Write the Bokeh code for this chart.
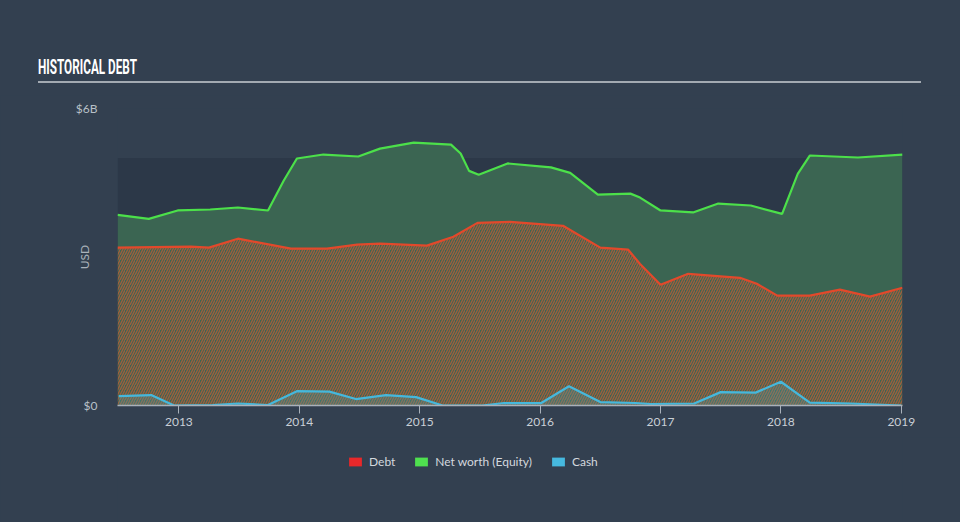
from bokeh.plotting import figure
from bokeh.layouts import column
from bokeh.models import (Range1d, FixedTicker, BoxAnnotation, Legend, LegendItem,
                          ColumnDataSource, Div)
from bokeh.embed import file_html
from bokeh.resources import INLINE

# ---- data (values in billions USD, x in fractional years) ----
equity_x = [2012.49, 2012.75, 2012.99, 2013.26, 2013.49, 2013.74, 2013.87, 2013.98, 2014.20,
            2014.49, 2014.67, 2014.95, 2015.26, 2015.34, 2015.41, 2015.49, 2015.73, 2016.09,
            2016.25, 2016.48, 2016.75, 2016.83, 2017.00, 2017.27, 2017.48, 2017.75, 2018.01,
            2018.14, 2018.24, 2018.64, 2019.01]
equity_v = [3.85, 3.77, 3.94, 3.96, 4.00, 3.94, 4.54, 4.99, 5.07,
            5.03, 5.19, 5.31, 5.27, 5.09, 4.74, 4.66, 4.89, 4.81,
            4.70, 4.26, 4.28, 4.20, 3.94, 3.90, 4.08, 4.04, 3.87,
            4.68, 5.05, 5.01, 5.07]

debt_x = [2012.49, 2013.10, 2013.25, 2013.49, 2013.93, 2014.23, 2014.48, 2014.67, 2015.06,
          2015.28, 2015.48, 2015.75, 2016.19, 2016.50, 2016.73, 2016.83, 2017.00, 2017.23,
          2017.66, 2017.80, 2017.97, 2018.24, 2018.49, 2018.74, 2019.01]
debt_v = [3.19, 3.21, 3.19, 3.37, 3.17, 3.17, 3.25, 3.27, 3.23,
          3.41, 3.69, 3.71, 3.63, 3.19, 3.15, 2.86, 2.44, 2.66,
          2.58, 2.46, 2.22, 2.22, 2.34, 2.20, 2.38]

cash_x = [2012.50, 2012.77, 2012.96, 2013.28, 2013.49, 2013.74, 2013.98, 2014.25, 2014.47,
          2014.72, 2014.97, 2015.19, 2015.52, 2015.70, 2016.01, 2016.24, 2016.50, 2016.79,
          2016.92, 2017.28, 2017.50, 2017.79, 2018.00, 2018.24, 2018.58, 2019.00]
cash_v = [0.19, 0.21, 0.00, 0.01, 0.04, 0.01, 0.29, 0.28, 0.13,
          0.21, 0.17, 0.00, 0.00, 0.05, 0.05, 0.39, 0.07, 0.05,
          0.03, 0.04, 0.27, 0.26, 0.48, 0.06, 0.04, 0.00]

year_ticks = [2013, 2014, 2015, 2016, 2017, 2018, 2019]
y_ticks = [0, 6]
y_tick_labels = {0: "$0", 6: "$6B"}
legend_labels = ["Debt", "Net worth (Equity)", "Cash"]
legend_colors = ["#e8282a", "#4fe04f", "#46b9df"]
title_text = "HISTORICAL DEBT"

BG = "#334050"
DARK = "#2c3848"
GREEN = "#4ce04a"
RED = "#e2492b"
BLUE = "#45b8dc"


def plain(fig):
    fig.background_fill_color = BG
    fig.border_fill_color = BG
    fig.outline_line_color = None
    fig.outline_line_alpha = 0
    fig.outline_line_width = 0
    fig.xgrid.visible = False
    fig.ygrid.visible = False


# ---------- header (title + rule) ----------
TH = 95
head_html = (
    '<div style="position:relative;width:960px;height:%dpx;background:%s;">'
    '<div style="position:absolute;left:38px;top:57px;font-family:Roboto,sans-serif;'
    'font-weight:bold;font-size:21px;line-height:21px;color:#ffffff;white-space:nowrap;'
    'transform:scaleX(0.56);transform-origin:0 0;">%s</div>'
    '<div style="position:absolute;left:38px;top:81px;width:883px;height:2px;'
    'background:#a3aab2;"></div></div>' % (TH, BG, title_text)
)
head = Div(text=head_html, width=960, height=TH,
           styles={"background-color": BG, "margin": "0", "padding": "0"})

# ---------- main chart ----------
MB = 32
MH = 13 + 297 + MB
p = figure(width=960, height=MH, output_backend="svg", toolbar_location=None,
           x_range=Range1d(2012.49, 2019.01), y_range=Range1d(0, 6),
           frame_width=785, frame_height=297,
           min_border_left=117, min_border_right=58, min_border_top=13,
           min_border_bottom=MB)
plain(p)

p.add_layout(BoxAnnotation(bottom=0, top=5, fill_color=DARK, fill_alpha=1.0,
                           line_color=None, line_alpha=0, level="underlay"))

eq = ColumnDataSource(dict(x=equity_x, y=equity_v))
de = ColumnDataSource(dict(x=debt_x, y=debt_v))
ca = ColumnDataSource(dict(x=cash_x, y=cash_v))

p.varea(x="x", y1=0, y2="y", source=eq, fill_color="#3b6552", fill_alpha=1.0)
p.varea(x="x", y1=0, y2="y", source=de, fill_alpha=0,
        hatch_pattern="right_diagonal_line", hatch_color="#e0582f", hatch_alpha=0.6,
        hatch_scale=5, hatch_weight=1.4)
p.varea(x="x", y1=0, y2="y", source=ca, fill_color="#4aa7b8", fill_alpha=0.25)

p.line(x="x", y="y", source=eq, line_color=GREEN, line_width=2.2)
p.line(x="x", y="y", source=de, line_color=RED, line_width=2.2)
p.line(x="x", y="y", source=ca, line_color=BLUE, line_width=2.2)

xa = p.xaxis[0]
xa.ticker = FixedTicker(ticks=year_ticks)
xa.axis_line_color = "#a9b1ba"
xa.axis_line_width = 1.5
xa.major_tick_line_color = "#a9b1ba"
xa.major_tick_out = 8
xa.major_tick_in = 0
xa.minor_tick_line_color = None
xa.major_label_text_color = "#c9cfd6"
xa.major_label_text_font = "Lato"
xa.major_label_text_font_size = "12px"
xa.major_label_standoff = 4

ya = p.yaxis[0]
ya.ticker = FixedTicker(ticks=y_ticks)
ya.major_label_overrides = y_tick_labels
ya.axis_line_color = None
ya.major_tick_line_color = None
ya.minor_tick_line_color = None
ya.major_label_text_color = "#b9c0c8"
ya.major_label_text_font = "Lato"
ya.major_label_text_font_size = "12px"
ya.major_label_standoff = 14
ya.axis_label = "USD"
ya.axis_label_text_color = "#aab2bb"
ya.axis_label_text_font = "Lato"
ya.axis_label_text_font_style = "normal"
ya.axis_label_text_font_size = "12px"
ya.axis_label_standoff = -19

# ---------- legend strip ----------
# The swatch renderers reuse the series data; this strip's ranges keep them out of view,
# so only their legend swatches show.
LH = 522 - TH - MH
lg = figure(width=960, height=LH, output_backend="svg", toolbar_location=None,
            x_range=Range1d(0, 1), y_range=Range1d(0, 1),
            x_axis_location=None, y_axis_location=None,
            min_border_left=117, min_border_right=58, min_border_top=0, min_border_bottom=0)
plain(lg)
items = []
for lab, col, src in zip(legend_labels, legend_colors, [de, eq, ca]):
    r = lg.varea(x="x", y1=0, y2="y", source=src, fill_color=col, fill_alpha=1.0)
    items.append(LegendItem(label=lab, renderers=[r]))
legend = Legend(items=items, orientation="horizontal", location=(230, LH - 21 - 11),
                background_fill_alpha=0, border_line_color=None, border_line_alpha=0,
                label_text_color="#d3d8de", label_text_font="Lato",
                label_text_font_size="12px", glyph_width=16, glyph_height=11,
                label_height=14, spacing=18, label_standoff=6, margin=0, padding=4)
lg.add_layout(legend, "center")

layout = column(head, p, lg, spacing=0, styles={"background-color": BG})
open("out.html", "w").write(file_html(layout, INLINE))
